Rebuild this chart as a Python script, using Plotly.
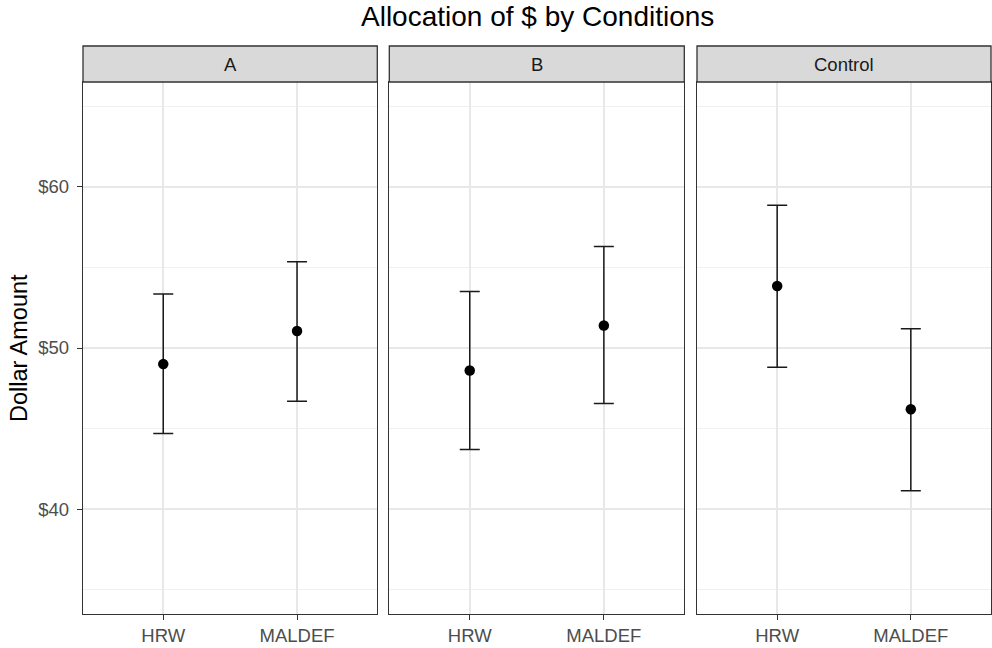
import plotly.graph_objects as go

conditions = ["A", "B", "Control"]
orgs = ["HRW", "MALDEF"]
means = {"A": [49.0, 51.05], "B": [48.6, 51.4], "Control": [53.85, 46.2]}
lower = {"A": [44.7, 46.7], "B": [43.7, 46.55], "Control": [48.8, 41.15]}
upper = {"A": [53.35, 55.35], "B": [53.5, 56.3], "Control": [58.85, 51.2]}
y_ticks = [40, 50, 60]
y_tick_labels = ["$40", "$50", "$60"]
y_minor = [35, 45, 55, 65]
title_text = "Allocation of $ by Conditions"
y_title = "Dollar Amount"

FONT = "Liberation Sans, Arial, Helvetica, sans-serif"
W, H = 992, 648
ML, MR, MT, MB = 83, 1, 46, 34
pw = W - ML - MR
ph = H - MT - MB
panel_top = (614 - 82) / ph  # fraction of plot-area height
domains = [
    (0.0, (377.3 - ML) / pw),
    ((389.3 - ML) / pw, (684.3 - ML) / pw),
    ((697.0 - ML) / pw, 1.0),
]

fig = go.Figure()
shapes = []
annotations = []
for i, cond in enumerate(conditions):
    xa = "x" if i == 0 else f"x{i+1}"
    ya = "y" if i == 0 else f"y{i+1}"
    m = means[cond]
    up = [u - v for u, v in zip(upper[cond], m)]
    dn = [v - l for v, l in zip(m, lower[cond])]
    fig.add_trace(go.Scatter(
        x=orgs, y=m, mode="markers", xaxis=xa, yaxis=ya,
        marker=dict(color="black", size=10.5),
        error_y=dict(type="data", symmetric=False, array=up, arrayminus=dn,
                     color="#1a1a1a", thickness=1.5, width=10),
        showlegend=False, hoverinfo="x+y",
    ))
    axis_common = dict(
        showline=True, mirror=True, linecolor="#333333", linewidth=1.3,
        gridcolor="#E8E8E8", gridwidth=1.5, zeroline=False,
        ticks="outside", ticklen=5, tickwidth=1.3, tickcolor="#333333",
        tickfont=dict(family=FONT, size=18.5, color="#4D4D4D"),
    )
    fig.layout[f"xaxis{'' if i == 0 else i+1}"] = dict(
        domain=list(domains[i]), anchor=ya, type="category",
        categoryorder="array", categoryarray=orgs, range=[-0.6, 1.6],
        **axis_common,
    )
    yopts = dict(
        domain=[0, panel_top], anchor=xa, range=[33.5, 66.5],
        tickmode="array", tickvals=y_ticks, ticktext=y_tick_labels,
        ticklabelstandoff=4,
        minor=dict(tickvals=y_minor, showgrid=True,
                   gridcolor="#F0F0F0", gridwidth=1.0, ticks=""),
        **axis_common,
    )
    if i > 0:
        yopts["showticklabels"] = False
        yopts["ticks"] = ""
        yopts["matches"] = "y"
    fig.layout[f"yaxis{'' if i == 0 else i+1}"] = yopts
    # strip
    shapes.append(dict(type="rect", xref="paper", yref="paper",
                       x0=domains[i][0], x1=domains[i][1], y0=panel_top, y1=1.0,
                       fillcolor="#D9D9D9", line=dict(color="#333333", width=1.3),
                       layer="above"))
    annotations.append(dict(text=cond, xref="paper", yref="paper",
                            x=(domains[i][0] + domains[i][1]) / 2,
                            y=(panel_top + 1.0) / 2, xanchor="center", yanchor="middle",
                            showarrow=False,
                            font=dict(family=FONT, size=18.5, color="#1A1A1A")))

annotations.append(dict(text=title_text, xref="paper", yref="paper", x=0.5, y=1.0,
                        xanchor="center", yanchor="bottom", yshift=12, showarrow=False,
                        font=dict(family=FONT, size=28, color="black")))
annotations.append(dict(text=y_title, xref="paper", yref="paper", x=0, y=panel_top / 2,
                        xanchor="center", yanchor="middle", xshift=-64, textangle=-90,
                        showarrow=False, font=dict(family=FONT, size=23.5, color="black")))

fig.update_layout(
    width=W, height=H, margin=dict(l=ML, r=MR, t=MT, b=MB),
    paper_bgcolor="white", plot_bgcolor="white",
    shapes=shapes, annotations=annotations,
    font=dict(family=FONT),
)
fig.write_html("out.html", config={"displayModeBar": False},
               post_script="document.body.style.margin='0';document.body.style.overflow='hidden';")
